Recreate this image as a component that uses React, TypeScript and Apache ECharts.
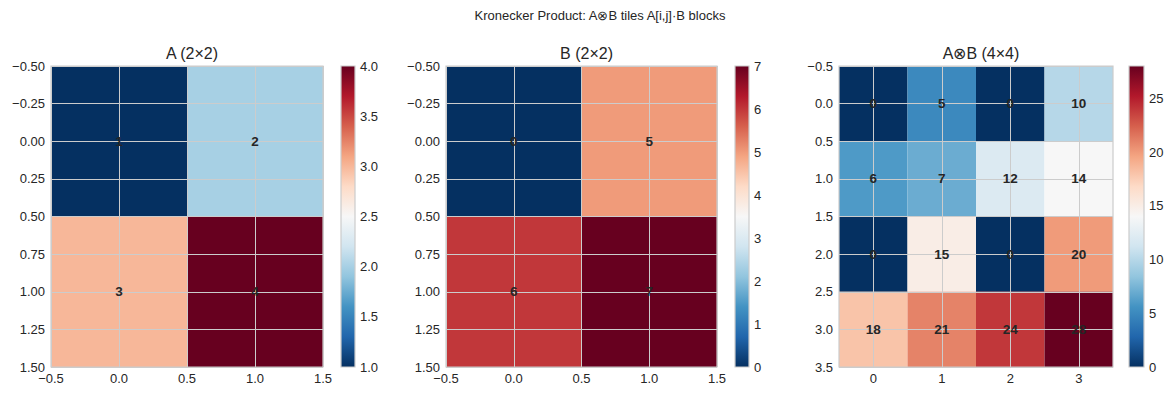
import React, { useEffect, useRef } from 'react';
import * as echarts from 'echarts';

// ---------- data ----------
const SUPTITLE = 'Kronecker Product: A⊗B tiles A[i,j]·B blocks';
const panelTitles = ['A (2×2)', 'B (2×2)', 'A⊗B (4×4)'];
const matA = [
  [1, 2],
  [3, 4],
];
const matB = [
  [0, 5],
  [6, 7],
];
const matK = [
  [0, 5, 0, 10],
  [6, 7, 12, 14],
  [0, 15, 0, 20],
  [18, 21, 24, 28],
];
const colorbarMin = [1, 0, 0];
const colorbarMax = [4, 7, 28];
const colorbarInterval = [0.5, 1, 5];
const colorbarDecimals = [1, 0, 0];
// x ticks: panel 3 only labels the integer columns 0..3
const xInterval = [0.5, 0.5, 0.5];
const xDecimals = [1, 1, 0];
const xIntegerOnly = [false, false, true];
const yInterval = [0.25, 0.25, 0.5];
const yDecimals = [2, 2, 1];

// matplotlib RdBu_r
const RDBU_R = [
  '#053061', '#2166ac', '#4393c3', '#92c5de', '#d1e5f0', '#f7f7f7',
  '#fddbc7', '#f4a582', '#d6604d', '#b2182b', '#67001f',
];

const FONT = '"Liberation Sans", Arial, Helvetica, sans-serif';
const TEXT = '#262626';
const LINE = '#cccccc';
const NONE = 'rgba(0,0,0,0)';

const fmt = (v: number, d: number) => v.toFixed(d).replace('-', '−');

// layout (pixels)
const plots = [
  { left: 51, width: 272, cbLeft: 341, cbWidth: 14 },
  { left: 446, width: 271, cbLeft: 735, cbWidth: 14 },
  { left: 839, width: 274, cbLeft: 1129, cbWidth: 15 },
];
const TOP = 66;
const HEIGHT = 301;

export default function App() {
  const ref = useRef<HTMLDivElement>(null);
  useEffect(() => {
    if (!ref.current) return;
    const chart = echarts.init(ref.current, null, { renderer: 'svg' });
    const mats = [matA, matB, matK];
    const grids: any[] = [];
    const xAxes: any[] = [];
    const yAxes: any[] = [];
    const series: any[] = [];
    const visualMaps: any[] = [];
    const titles: any[] = [
      {
        text: SUPTITLE,
        left: 595,
        top: 4,
        textAlign: 'center',
        textStyle: { fontFamily: FONT, fontSize: 13, fontWeight: 'normal', color: TEXT },
      },
    ];

    mats.forEach((m, k) => {
      const n = m.length;
      const lo = -0.5;
      const hi = n - 0.5;
      const p = plots[k];
      titles.push({
        text: panelTitles[k],
        left: p.left + p.width / 2,
        top: 40,
        textAlign: 'center',
        textStyle: { fontFamily: FONT, fontSize: 16, fontWeight: 'normal', color: TEXT },
      });
      // heatmap grid (border drawn above cells)
      const gi = grids.length;
      grids.push({
        left: p.left,
        top: TOP,
        width: p.width,
        height: HEIGHT,
        show: true,
        z: 8,
        backgroundColor: NONE,
        borderColor: LINE,
        borderWidth: 1.2,
      });
      xAxes.push({
        type: 'value',
        gridIndex: gi,
        min: lo,
        max: hi,
        interval: xInterval[k],
        z: 5,
        axisLine: { show: false },
        axisTick: { show: false },
        axisLabel: {
          color: TEXT,
          fontFamily: FONT,
          fontSize: 13,
          margin: 5,
          formatter: (v: number) =>
            xIntegerOnly[k] && Math.abs(v - Math.round(v)) > 1e-9 ? '' : fmt(v, xDecimals[k]),
        },
        splitLine: {
          show: true,
          lineStyle: { color: xIntegerOnly[k] ? [NONE, LINE] : LINE, width: 1 },
        },
      });
      yAxes.push({
        type: 'value',
        gridIndex: gi,
        min: lo,
        max: hi,
        interval: yInterval[k],
        inverse: true,
        z: 5,
        axisLine: { show: false },
        axisTick: { show: false },
        axisLabel: {
          color: TEXT,
          fontFamily: FONT,
          fontSize: 13,
          margin: 6,
          formatter: (v: number) => fmt(v, yDecimals[k]),
        },
        splitLine: { show: true, lineStyle: { color: LINE, width: 1 } },
      });
      const data: number[][] = [];
      m.forEach((row, i) => row.forEach((v, j) => data.push([j, i, v])));
      const cellSeriesIndex = series.length;
      series.push({
        type: 'custom',
        xAxisIndex: gi,
        yAxisIndex: gi,
        z: 2,
        data,
        encode: { x: 0, y: 1 },
        renderItem: (params: any, api: any) => {
          const x = api.value(0);
          const y = api.value(1);
          const a = api.coord([x - 0.5, y - 0.5]);
          const b = api.coord([x + 0.5, y + 0.5]);
          return {
            type: 'rect',
            shape: {
              x: Math.min(a[0], b[0]),
              y: Math.min(a[1], b[1]),
              width: Math.abs(b[0] - a[0]),
              height: Math.abs(b[1] - a[1]),
            },
            style: { fill: api.visual('color') },
          };
        },
      });
      visualMaps.push({
        type: 'continuous',
        show: false,
        seriesIndex: cellSeriesIndex,
        dimension: 2,
        min: colorbarMin[k],
        max: colorbarMax[k],
        inRange: { color: RDBU_R },
      });
      series.push({
        type: 'custom',
        xAxisIndex: gi,
        yAxisIndex: gi,
        z: 10,
        data,
        encode: { x: 0, y: 1 },
        renderItem: (params: any, api: any) => {
          const c = api.coord([api.value(0), api.value(1)]);
          return {
            type: 'text',
            x: c[0],
            y: c[1],
            style: {
              text: String(api.value(2)),
              fill: TEXT,
              font: `bold 13.5px ${FONT}`,
              align: 'center',
              verticalAlign: 'middle',
            },
          };
        },
      });

      // colorbar grid
      const ci = grids.length;
      grids.push({ left: p.cbLeft, top: TOP, width: p.cbWidth, height: HEIGHT, show: false });
      xAxes.push({ type: 'value', gridIndex: ci, min: 0, max: 1, show: false });
      yAxes.push({
        type: 'value',
        gridIndex: ci,
        position: 'right',
        min: colorbarMin[k],
        max: colorbarMax[k],
        interval: colorbarInterval[k],
        axisLine: { show: false },
        axisTick: { show: false },
        splitLine: { show: false },
        axisLabel: {
          color: TEXT,
          fontFamily: FONT,
          fontSize: 13,
          margin: 5,
          showMaxLabel: k < 2,
          formatter: (v: number) => fmt(v, colorbarDecimals[k]),
        },
      });
      const stops = RDBU_R.map((c, i) => ({ offset: i / (RDBU_R.length - 1), color: c }));
      series.push({
        type: 'custom',
        xAxisIndex: ci,
        yAxisIndex: ci,
        z: 2,
        data: [[0, colorbarMin[k], 1, colorbarMax[k]]],
        encode: { x: [0, 2], y: [1, 3] },
        renderItem: (params: any, api: any) => {
          const a = api.coord([api.value(0), api.value(1)]);
          const b = api.coord([api.value(2), api.value(3)]);
          return {
            type: 'rect',
            shape: {
              x: Math.min(a[0], b[0]),
              y: Math.min(a[1], b[1]),
              width: Math.abs(b[0] - a[0]),
              height: Math.abs(b[1] - a[1]),
            },
            style: {
              fill: new echarts.graphic.LinearGradient(0, 1, 0, 0, stops),
              stroke: LINE,
              lineWidth: 1.2,
            },
          };
        },
      });
    });

    chart.setOption({
      animation: false,
      backgroundColor: '#ffffff',
      title: titles,
      grid: grids,
      xAxis: xAxes,
      yAxis: yAxes,
      visualMap: visualMaps,
      series,
    });
    return () => chart.dispose();
  }, []);
  return (
    <div
      ref={ref}
      style={{ position: 'absolute', left: 0, top: 0, width: 1174, height: 396 }}
    />
  );
}
